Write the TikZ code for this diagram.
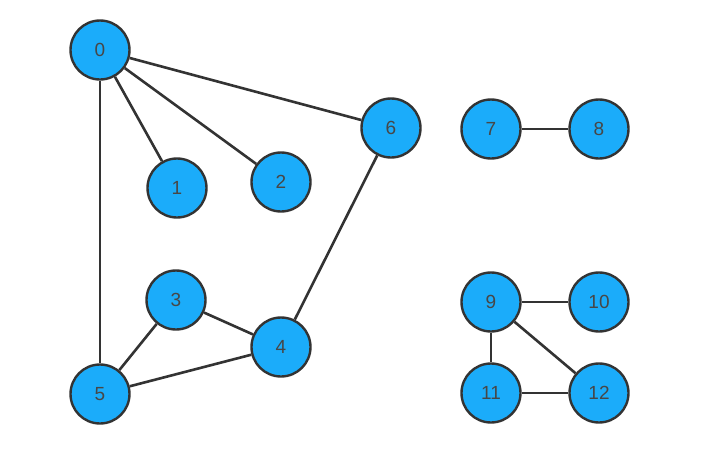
\documentclass[tikz,border=0pt]{standalone}
\usepackage{fontspec}
\setmainfont{Liberation Sans}
\usepackage{tikz}
\definecolor{gblue}{RGB}{27,172,250}
\definecolor{gline}{RGB}{51,51,51}
\tikzset{
  vnode/.style={circle,draw=gline,fill=gblue,line width=2.4pt,minimum size=59pt,
    inner sep=0pt,text=gline!90,font=\fontsize{19}{22}\selectfont},
  eline/.style={draw=gline,line width=2.6pt},
}

\begin{document}
\begin{tikzpicture}[x=1pt,y=-1pt]
        \useasboundingbox (0,0) rectangle (713,464);
        \foreach \n/\x/\y in {0/100/50,1/177/188,2/281/182,6/391/128,
                              7/491/129,8/599/129,3/176/300,4/281/347,
                              5/100/394,9/491/302,10/599/302,11/491/393,12/599/393}
          \node[vnode] (v\n) at (\x,\y) {\n};
        \foreach \a/\b in {0/1,0/2,0/6,0/5,6/4,3/4,3/5,5/4,
                           7/8,9/10,9/11,9/12,11/12}
          \draw[eline] (v\a) -- (v\b);
      \end{tikzpicture}
\end{document}
